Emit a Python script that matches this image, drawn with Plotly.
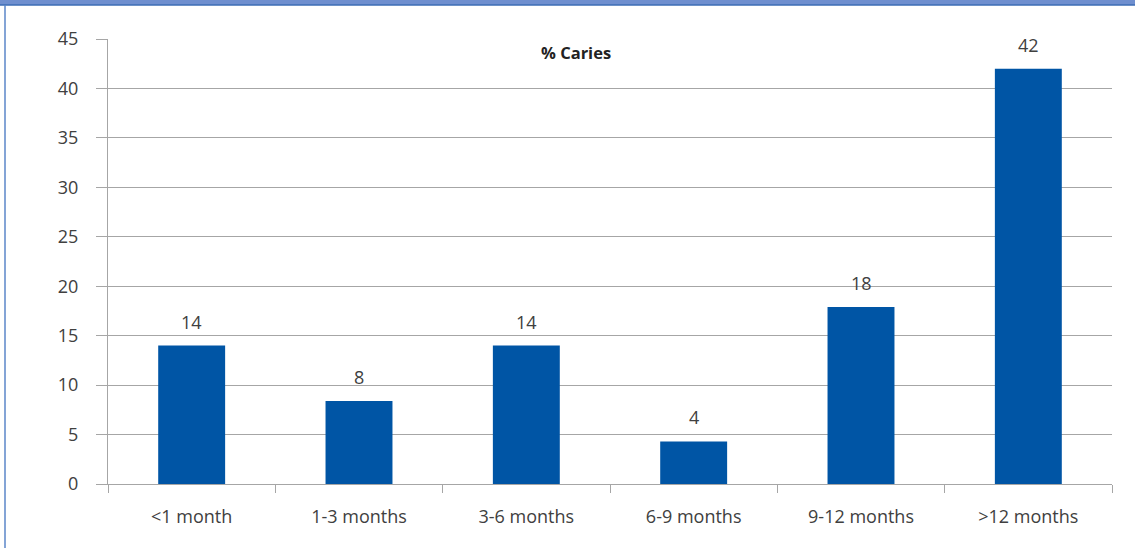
import plotly.graph_objects as go

categories = ["<1 month", "1-3 months", "3-6 months", "6-9 months", "9-12 months", ">12 months"]
caries_pct = [14.0, 8.4, 14.0, 4.3, 17.9, 42.0]
y_ticks = [0, 5, 10, 15, 20, 25, 30, 35, 40, 45]

W, H = 1135, 548
L, R, T, B = 108, 23, 39, 64
pw, ph = W - L - R, H - T - B

def px_x(p):
    return (p - L) / pw

def px_y(p):
    return (H - B - p) / ph

font_fam = "Open Sans, Noto Sans, sans-serif"
txt = "#404040"
grid = "#a6a6a6"
fsize = 18

fig = go.Figure()
fig.add_trace(go.Bar(
    x=categories, y=caries_pct, width=0.4,
    marker=dict(color="#0055a5", line=dict(width=0)),
    hoverinfo="x+y",
))

annotations = [dict(
    x=c, y=v, xref="x", yref="y", text=f"{v:.0f}", showarrow=False,
    yanchor="bottom", xanchor="center", yshift=10,
    font=dict(size=fsize, color=txt, family=font_fam),
) for c, v in zip(categories, caries_pct)]

annotations.append(dict(
    text="<b>% Caries</b>", xref="paper", yref="paper", x=px_x(576), y=px_y(52),
    showarrow=False, font=dict(size=16.5, color="#222222", family=font_fam),
    xanchor="center", yanchor="middle",
))

fig.update_layout(
    width=W, height=H,
    margin=dict(l=L, r=R, t=T, b=B),
    paper_bgcolor="white", plot_bgcolor="white",
    showlegend=False,
    font=dict(family=font_fam, color=txt, size=fsize),
    bargap=0.6,
    xaxis=dict(
        tickson="boundaries", ticks="outside", ticklen=8, tickcolor=grid, tickwidth=1,
        showline=True, linecolor=grid, linewidth=1, showgrid=False,
        tickfont=dict(size=fsize, color=txt), ticklabelstandoff=16,
    ),
    yaxis=dict(
        range=[0, 45], tickvals=y_ticks, ticks="outside", ticklen=11,
        tickcolor=grid, tickwidth=1, showline=True, linecolor=grid, linewidth=1,
        showgrid=True, gridcolor=grid, gridwidth=1, zeroline=False,
        tickfont=dict(size=fsize, color=txt), ticklabelstandoff=14,
    ),
    annotations=annotations,
    shapes=[
        dict(type="rect", xref="paper", yref="paper", x0=px_x(0), x1=px_x(W),
             y0=px_y(5), y1=px_y(0), fillcolor="#6f8fcf", line=dict(width=0), layer="above"),
        dict(type="line", xref="paper", yref="paper", x0=px_x(0), x1=px_x(W),
             y0=px_y(5), y1=px_y(5), line=dict(color="#3c6db5", width=1.5), layer="above"),
        dict(type="line", xref="paper", yref="paper", x0=px_x(5), x1=px_x(5),
             y0=px_y(H), y1=px_y(5), line=dict(color="#5b86c8", width=1.5), layer="above"),
    ],
)

fig.write_html("out.html")
